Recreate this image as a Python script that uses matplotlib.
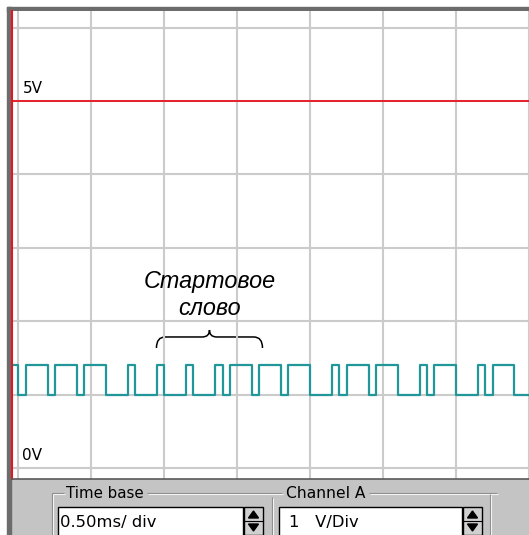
import numpy as np
import matplotlib.pyplot as plt
from matplotlib.patches import Rectangle, Polygon, PathPatch
from matplotlib.path import Path

# signal: one level per bit, starting one bit before t = 0
bit_ms = 0.05
bits = [1,
        0, 1, 1, 1, 0, 1, 1, 1, 0, 1, 1, 1, 0, 0, 0, 1, 0, 0, 0, 1,
        0, 0, 0, 1, 0, 0, 0, 1, 0, 1, 1, 1, 0, 1, 1, 1, 0, 1, 1, 1,
        0, 0, 0, 1, 0, 1, 1, 1, 0, 1, 1, 1, 0, 0, 0, 1, 0, 1, 1, 1,
        0, 0, 0, 1, 0, 1, 1, 1, 0, 0]
low_v, high_v = 1.0, 1.4
ref_v = 5.0

time_divs = np.arange(0, 3.51, 0.5)
volt_divs = np.arange(0, 7)

brace_from, brace_to = 0.946, 1.673
caption = "Стартовое\nслово"
time_base = "0.50ms/ div"
channel_a = "1   V/Div"

W, H = 529, 535
fig = plt.figure(figsize=(W / 100, H / 100), dpi=100)


def px_box(x0, y0, x1, y1):
    return [x0 / W, 1 - y1 / H, (x1 - x0) / W, (y1 - y0) / H]


# window chrome, drawn in pixel coordinates
ui = fig.add_axes([0, 0, 1, 1], zorder=0)
ui.set_xlim(0, W)
ui.set_ylim(H, 0)
ui.axis("off")
ui.add_patch(Rectangle((11, 479), W - 11, H - 479, color="#c4c4c4"))
ui.add_patch(Rectangle((7, 7), 4, H - 7, color="#6c6c6c"))
ui.add_patch(Rectangle((7, 7), W - 7, 4, color="#6c6c6c"))


def etched(xs, ys):
    ui.plot(xs, ys, color="#8a8a8a", lw=0.8, solid_capstyle="butt")
    ui.plot(np.array(xs) + 1, np.array(ys) + 1, color="#f4f4f4", lw=0.8,
            solid_capstyle="butt")


etched([52, 64], [493, 493])
etched([147, 282], [493, 493])
etched([52, 52], [493, 536])
etched([272, 272], [497, 536])
etched([369, 497], [493, 493])
etched([490, 490], [494, 536])

ui.text(66, 493, "Time base", fontsize=10.8, va="center", family="DejaVu Sans")
ui.text(286, 493, "Channel A", fontsize=11.2, va="center", family="DejaVu Sans")


def field(x0, x1, label, tx):
    ui.add_patch(Rectangle((x0, 507), x1 - x0, 32, facecolor="white",
                           edgecolor="black", lw=1))
    ui.add_patch(Rectangle((x1 + 1, 507), 19, 28, facecolor="#d0d0d0",
                           edgecolor="black", lw=1))
    ui.plot([x1 + 1, x1 + 20], [521, 521], color="black", lw=0.8)
    cx = x1 + 10.5
    ui.add_patch(Polygon([[cx - 5, 518], [cx + 5, 518], [cx, 511]], color="black"))
    ui.add_patch(Polygon([[cx - 5, 524], [cx + 5, 524], [cx, 531]], color="black"))
    ui.text(tx, 522, label, fontsize=11.8, va="center", family="DejaVu Sans")


field(58, 243, time_base, 60)
field(279, 462, channel_a, 289)

# scope screen
ax = fig.add_axes(px_box(11.5, 11, W, 479), zorder=1)
ax.set_facecolor("white")
ax.set_xlim(-7 / 147, 510 / 147)
ax.set_ylim(-11 / 73.4, 457 / 73.4)
ax.set_xticks(time_divs)
ax.set_yticks(volt_divs)
ax.tick_params(length=0, labelleft=False, labelbottom=False)
ax.grid(True, color="#cbcbcb", lw=1.5)
for s in ("top", "right"):
    ax.spines[s].set_visible(False)
ax.spines["left"].set_color("#e8141e")
ax.spines["left"].set_linewidth(1.5)
ax.spines["bottom"].set_color("#5a5a5a")
ax.spines["bottom"].set_linewidth(1.2)

ax.axhline(ref_v, color="#e8141e", lw=1.3)

levels = np.where(np.array(bits) == 1, high_v, low_v)
t = (np.arange(len(bits) + 1) - 1) * bit_ms
ax.step(t, np.append(levels, levels[-1]), where="post", color="#22979a", lw=1.6)

ax.text(0.027, ref_v + 0.07, "5V", fontsize=11, va="bottom", family="DejaVu Sans")
ax.text(0.027, 0.07, "0V", fontsize=11, va="bottom", family="DejaVu Sans")

# brace over the start word
xm = (brace_from + brace_to) / 2
y_tip, y_line, y_peak = 1.635, 1.785, 1.88
verts = [(brace_from, y_tip), (brace_from, y_line), (brace_from + 0.06, y_line),
         (xm - 0.05, y_line), (xm, y_line), (xm, y_peak),
         (xm, y_line), (xm + 0.05, y_line),
         (brace_to - 0.06, y_line), (brace_to, y_line), (brace_to, y_tip)]
codes = [Path.MOVETO, Path.CURVE3, Path.CURVE3,
         Path.LINETO, Path.CURVE3, Path.CURVE3,
         Path.CURVE3, Path.CURVE3,
         Path.LINETO, Path.CURVE3, Path.CURVE3]
ax.add_patch(PathPatch(Path(verts, codes), fill=False, color="black", lw=1.1))

ax.text(1.31, 2.36, caption, ha="center", va="center", style="italic",
        fontsize=16.8, family="Liberation Sans", linespacing=1.25)

fig.savefig("out.png", dpi=100)
